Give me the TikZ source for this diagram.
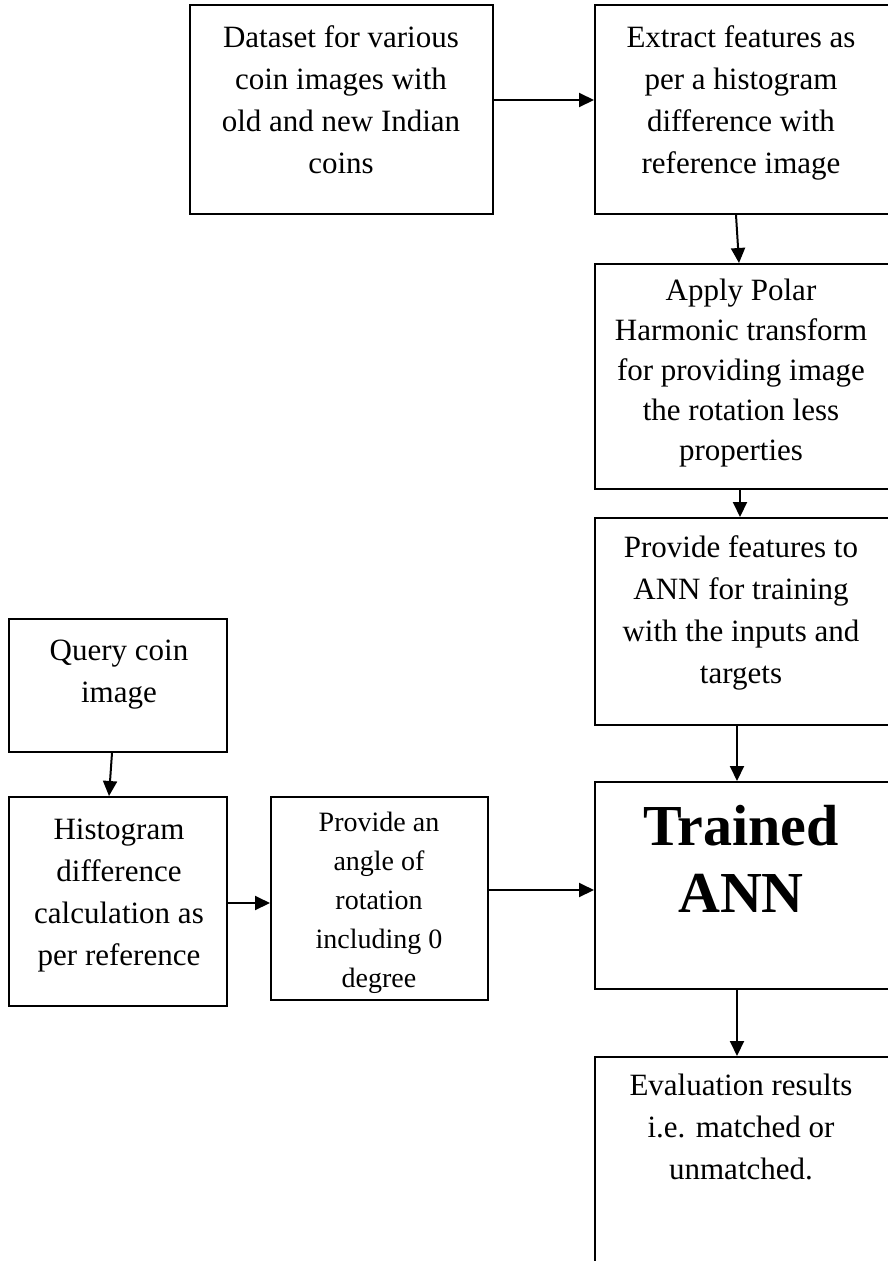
\documentclass[tikz,border=0pt]{standalone}
\usepackage{fontspec}
\setmainfont{Liberation Serif}
\usetikzlibrary{arrows.meta}
\tikzset{
  box/.style={draw=black, line width=2pt, inner sep=0pt, fill=none},
  txt/.style={align=center, inner sep=0pt, anchor=north, font=\fontsize{31}{42}\selectfont},
  txtsmall/.style={align=center, inner sep=0pt, anchor=north, font=\fontsize{28}{39}\selectfont},
  txtmid/.style={align=center, inner sep=0pt, anchor=north, font=\fontsize{31}{40}\selectfont},
  txtbig/.style={align=center, inner sep=0pt, anchor=north, font=\fontsize{58}{67}\bfseries\selectfont},
  arr/.style={line width=2pt, -{Triangle[length=15pt,width=14pt]}}
}
\begin{document}
\begin{tikzpicture}[x=1pt,y=-1pt]
\useasboundingbox (0,0) rectangle (888,1261);
\clip (0,0) rectangle (888,1261);
% boxes
\node[box, minimum width=303pt, minimum height=209pt] (b1) at (341.5,109.5) {};
\node[box, minimum width=310pt, minimum height=209pt] (b2) at (750,109.5) {};
\node[box, minimum width=310pt, minimum height=225pt] (b3) at (750,376.5) {};
\node[box, minimum width=310pt, minimum height=207pt] (b4) at (750,621.5) {};
\node[box, minimum width=310pt, minimum height=207pt] (b5) at (750,885.5) {};
\node[box, minimum width=310pt, minimum height=260pt] (b6) at (750,1187) {};
\node[box, minimum width=218pt, minimum height=133pt] (q) at (118,685.5) {};
\node[box, minimum width=218pt, minimum height=209pt] (h) at (118,901.5) {};
\node[box, minimum width=217pt, minimum height=203pt] (a) at (379.5,898.5) {};
% texts
\node[txt] (t1) at (341,17.6) {\strut Dataset for various\\coin images with\\old and new Indian\\coins};
\node[txt] (t2) at (741,17.6) {\strut Extract features as\\per a histogram\\difference with\\reference image};
\node[txtmid] (t3) at (741,272) {\strut Apply Polar\\Harmonic transform\\for providing image\\the rotation less\\properties};
\node[txt] (t4) at (741,527.6) {\strut Provide features to\\ANN for training\\with the inputs and\\targets};
\node[txtbig] (t5) at (741,798.4) {\strut Trained\\ANN};
\node[txt] (t6) at (741,1065.6) {\strut Evaluation results\\i.e. matched or\\unmatched.};
\node[txt] (tq) at (119,630.6) {\strut Query coin\\image};
\node[txt] (th) at (119,809.6) {\strut Histogram\\difference\\calculation as\\per reference};
\node[txtsmall] (ta) at (379,803.7) {\strut Provide an\\angle of\\rotation\\including 0\\degree};
% arrows
\draw[arr] (b1.east |- 0,100) -- (b2.west |- 0,100);
\draw[arr] (b2.south -| 736,0) -- (b3.north -| 739,0);
\draw[arr] (b3.south -| 740,0) -- (b4.north -| 740,0);
\draw[arr] (b4.south -| 737,0) -- (b5.north -| 737,0);
\draw[arr] (b5.south -| 737,0) -- (b6.north -| 737,0);
\draw[arr] (q.south -| 112,0) -- (h.north -| 109,0);
\draw[arr] (h.east |- 0,903) -- (a.west |- 0,903);
\draw[arr] (a.east |- 0,890) -- (b5.west |- 0,890);
\end{tikzpicture}
\end{document}
